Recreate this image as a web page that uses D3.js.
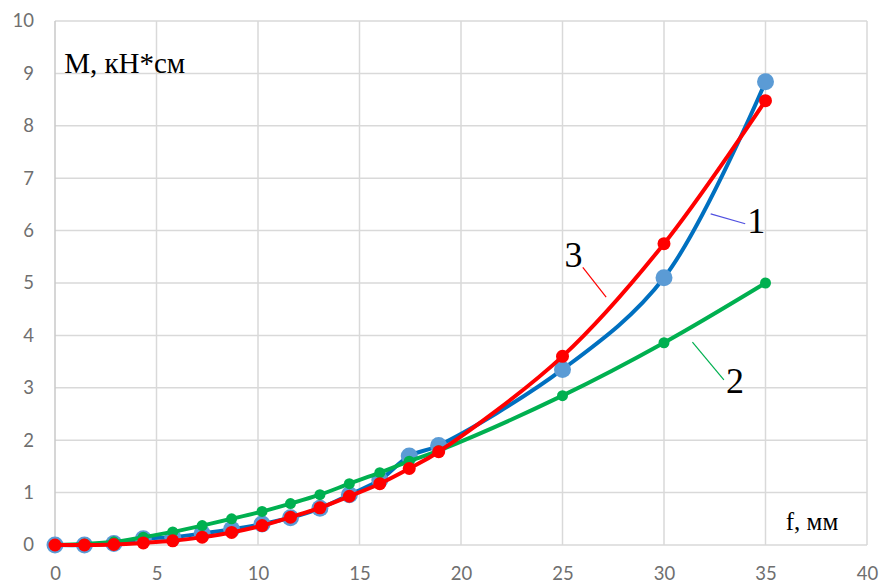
<!DOCTYPE html>
<html lang="ru">
<head>
    <meta charset="UTF-8">
    <title>M(f)</title>
    <script src="https://d3js.org/d3.v7.min.js"></script>
    <style>
        body { margin: 0; background: #fff; }
        .tick text { font-family: Lato, "Open Sans", sans-serif; font-size: 18.5px; fill: #6f6f6f; }
        .lbl { font-family: "Liberation Serif", "DejaVu Serif", serif; fill: #000; }
    </style>
</head>
<body>
<script>
    const width = 881;
    const height = 586;

    // f, mm
    const fValues = [0, 1.45, 2.9, 4.35, 5.8, 7.25, 8.7, 10.2, 11.6, 13.05, 14.5, 16, 17.45, 18.9, 25, 30, 35];
    // M, kN*cm
    const curve1 = [0, 0, 0.03, 0.12, 0.15, 0.22, 0.3, 0.4, 0.52, 0.7, 0.96, 1.24, 1.7, 1.9, 3.35, 5.1, 8.84];
    const curve2 = [0, 0.02, 0.06, 0.15, 0.25, 0.37, 0.5, 0.64, 0.79, 0.96, 1.17, 1.38, 1.6, 1.8, 2.85, 3.86, 5.0];
    const curve3 = [0, 0, 0.01, 0.04, 0.08, 0.15, 0.24, 0.37, 0.53, 0.71, 0.93, 1.17, 1.46, 1.78, 3.6, 5.75, 8.48];
    const xTicks = [0, 5, 10, 15, 20, 25, 30, 35, 40];
    const yTicks = [0, 1, 2, 3, 4, 5, 6, 7, 8, 9, 10];

    const margin = {top: 21, right: 14, bottom: 41, left: 55};

    const svg = d3.select("body").append("svg")
            .attr("width", width).attr("height", height);

    const x = d3.scaleLinear().domain([0, 40]).range([margin.left, width - margin.right]);
    const y = d3.scaleLinear().domain([0, 10]).range([height - margin.bottom, margin.top]);

    // grid
    svg.append("g").selectAll("line.h")
            .data(yTicks).enter().append("line")
            .attr("x1", x(0)).attr("x2", x(40))
            .attr("y1", d => y(d)).attr("y2", d => y(d))
            .style("stroke", "#d9d9d9").style("stroke-width", 1.5);
    svg.append("g").selectAll("line.v")
            .data(xTicks).enter().append("line")
            .attr("y1", y(0)).attr("y2", y(10))
            .attr("x1", d => x(d)).attr("x2", d => x(d))
            .style("stroke", d => d == 0 ? "#c8c8c8" : "#d9d9d9").style("stroke-width", 1.5);

    // axes (labels only)
    svg.append("g")
            .attr("transform", `translate(0,${y(0)})`)
            .call(d3.axisBottom(x).tickValues(xTicks).tickSize(0).tickPadding(22));
    svg.append("g")
            .attr("transform", `translate(${x(0)},0)`)
            .call(d3.axisLeft(y).tickValues(yTicks).tickSize(0).tickPadding(21));
    svg.selectAll(".domain").remove();

    const line = d3.line()
            .x(d => x(d[0])).y(d => y(d[1]))
            .curve(d3.curveCatmullRom.alpha(0.5));

    const series = [
        {vals: curve1, line: "#0070c0", mark: "#5b9bd5", r: 8.5, w: 4},
        {vals: curve2, line: "#00b050", mark: "#00b050", r: 5.5, w: 4},
        {vals: curve3, line: "#ff0000", mark: "#ff0000", r: 6.5, w: 4}
    ];

    series.forEach(s => {
        const pts = fValues.map((f, i) => [f, s.vals[i]]);
        svg.append("path")
                .datum(pts)
                .attr("d", line)
                .style("fill", "none")
                .style("stroke", s.line)
                .style("stroke-width", s.w);
        svg.append("g").selectAll("circle")
                .data(pts).enter().append("circle")
                .attr("cx", d => x(d[0])).attr("cy", d => y(d[1]))
                .attr("r", s.r)
                .style("fill", s.mark);
    });

    // axis titles
    svg.append("text").attr("class", "lbl")
            .attr("x", x(0.45)).attr("y", y(9.0))
            .style("font-size", "29px")
            .text("М, кН*см");
    svg.append("text").attr("class", "lbl")
            .attr("x", x(36.0)).attr("y", y(0.29))
            .style("font-size", "25px")
            .text("f, мм");

    // curve numbers with leaders
    const notes = [
        {t: "1", at: [34.1, 5.95], from: [32.3, 6.32], to: [34.0, 6.13], c: "#5050e0"},
        {t: "2", at: [33.05, 2.9], from: [31.4, 3.87], to: [32.95, 3.15], c: "#00b050"},
        {t: "3", at: [25.1, 5.3], from: [26.0, 5.3], to: [27.15, 4.73], c: "#ff0000"}
    ];
    notes.forEach(n => {
        svg.append("line")
                .attr("x1", x(n.from[0])).attr("y1", y(n.from[1]))
                .attr("x2", x(n.to[0])).attr("y2", y(n.to[1]))
                .style("stroke", n.c).style("stroke-width", 1.2);
        svg.append("text").attr("class", "lbl")
                .attr("x", x(n.at[0])).attr("y", y(n.at[1]))
                .style("font-size", "36px")
                .text(n.t);
    });
</script>
</body>
</html>
